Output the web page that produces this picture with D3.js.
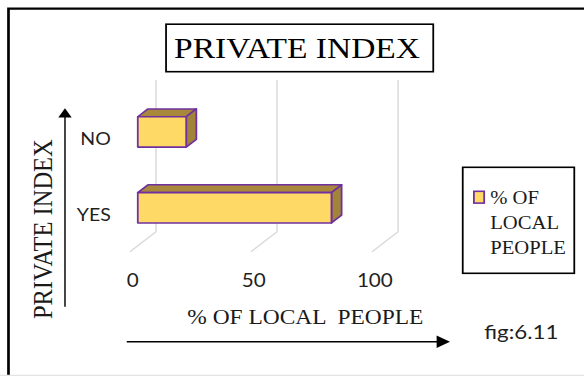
<!DOCTYPE html>
<html>
<head>
<meta charset="utf-8">
<script src="https://cdn.jsdelivr.net/npm/d3@7"></script>
<style>
  html, body { margin: 0; padding: 0; background: #fff; }
  svg { display: block; }
  text { white-space: pre; }
</style>
</head>
<body>
<div id="chart"></div>
<script>
// Share of local people by private index
const categories = ["NO", "YES"];
const values = [20, 80];
const xTicks = [0, 50, 100];
const seriesName = "% OF LOCAL PEOPLE";
const legendLines = ["% OF", "LOCAL", "PEOPLE"];
const chartTitle = "PRIVATE INDEX";
const yTitle = "PRIVATE INDEX";
const xTitle = "% OF LOCAL  PEOPLE";
const figLabel = "fig:6.11";

// The figure is laid out on a 523-wide canvas and shown stretched to 584 px.
const W = 584, H = 376, VW = 523;
const serif = "'Liberation Serif', 'Times New Roman', serif";
const sans = "Lato, 'Open Sans', sans-serif";

const svg = d3.select("#chart").append("svg")
  .attr("width", W).attr("height", H)
  .attr("viewBox", `0 0 ${VW} ${H}`)
  .attr("preserveAspectRatio", "none");

// frame
svg.append("path")
  .attr("d", `M7.6,${H + 2} V8.6 H${VW + 4}`)
  .attr("fill", "none").attr("stroke", "#000").attr("stroke-width", 2.4);
svg.append("line")
  .attr("x1", 0).attr("x2", VW).attr("y1", 375.3).attr("y2", 375.3)
  .attr("stroke", "#e3e3e3").attr("stroke-width", 1.2);

// title box
svg.append("rect")
  .attr("x", 148.7).attr("y", 24.2).attr("width", 239.3).attr("height", 47.5)
  .attr("fill", "#fff").attr("stroke", "#000").attr("stroke-width", 1.6);
svg.append("text")
  .attr("x", 266).attr("y", 58.3).attr("text-anchor", "middle")
  .attr("font-family", serif).attr("font-size", 30).attr("fill", "#000")
  .text(chartTitle);

// 3D plot geometry: front floor edge + depth vector towards the back wall
const floorY = 251.7;
const depth = [23.3, -20];
const x = d3.scaleLinear().domain([0, 100]).range([116.4, 333.2]);
const y = d3.scaleBand().domain(categories).range([100, floorY])
  .paddingInner(0.6).paddingOuter(0.3);
const bw = y.bandwidth();
const t0 = 0.3, t1 = 0.69;   // bar front / back depth fractions

const plot = svg.append("g");

// back-wall gridlines and floor lines
const grid = plot.append("g").attr("stroke", "#d9d9d9").attr("stroke-width", 1.3).attr("fill", "none");
xTicks.forEach(v => {
  const bx = x(v) + depth[0], by = floorY + depth[1];
  grid.append("path")
    .attr("d", `M${bx},${y.range()[0] + depth[1]} V${by} L${x(v)},${floorY}`);
});

// bars
const frontFill = "#FFD966", topFill = "#A8893C", sideFill = "#A0843A", edge = "#7030A0";
const bars = plot.append("g").selectAll("g").data(categories.map((c, i) => ({ c, v: values[i] })))
  .join("g")
  .attr("stroke", edge).attr("stroke-width", 1.6).attr("stroke-linejoin", "round");

bars.each(function (d) {
  const g = d3.select(this);
  const ox = t0 * depth[0], oy = t0 * depth[1];
  const dx = (t1 - t0) * depth[0], dy = (t1 - t0) * depth[1];
  const x0 = x(0) + ox, x1 = x(d.v) + ox;
  const yT = y(d.c) + oy, yB = y(d.c) + bw + oy;
  g.append("polygon").attr("fill", topFill)
    .attr("points", [[x0, yT], [x1, yT], [x1 + dx, yT + dy], [x0 + dx, yT + dy]].join(" "));
  g.append("polygon").attr("fill", sideFill)
    .attr("points", [[x1, yT], [x1 + dx, yT + dy], [x1 + dx, yB + dy], [x1, yB]].join(" "));
  g.append("rect").attr("fill", frontFill)
    .attr("x", x0).attr("y", yT).attr("width", x1 - x0).attr("height", yB - yT);
});

// value axis labels along the front floor edge
const xAxis = plot.append("g")
  .attr("transform", `translate(2,0)`)
  .call(d3.axisBottom(x).tickValues(xTicks).tickSize(0).tickFormat(d3.format("d")));
xAxis.select(".domain").remove();
xAxis.selectAll("text")
  .attr("y", 286.6).attr("dy", 0)
  .attr("font-family", sans).attr("font-size", 18.5).attr("fill", "#1f1f1f");

// category axis labels (ticks already sit at band centres)
const yAxis = plot.append("g")
  .attr("transform", `translate(99.3,0)`)
  .call(d3.axisLeft(y).tickSize(0).tickPadding(0));
yAxis.select(".domain").remove();
yAxis.selectAll("text")
  .attr("x", 0).attr("dy", 0)
  .attr("y", 6.8)
  .attr("font-family", sans).attr("font-size", 17.5).attr("fill", "#1f1f1f");

// axis titles
svg.append("text")
  .attr("transform", "translate(46.3,229.2) rotate(-90)")
  .attr("text-anchor", "middle")
  .attr("font-family", serif).attr("font-size", 24.5).attr("fill", "#1a1a1a")
  .text(yTitle);
svg.append("text")
  .attr("x", 167.7).attr("y", 324)
  .attr("font-family", serif).attr("font-size", 21).attr("fill", "#1a1a1a")
  .text(xTitle);

// direction arrows
svg.append("line").attr("x1", 58.2).attr("x2", 58.2).attr("y1", 306.7).attr("y2", 116)
  .attr("stroke", "#000").attr("stroke-width", 1.3);
svg.append("polygon").attr("fill", "#000")
  .attr("points", "58.2,108.3 52.2,117.6 64.2,117.6");
svg.append("line").attr("x1", 113.5).attr("x2", 392).attr("y1", 341.7).attr("y2", 341.7)
  .attr("stroke", "#000").attr("stroke-width", 1.5);
svg.append("polygon").attr("fill", "#000")
  .attr("points", "403,341.7 391,335.4 391,348");

// legend
const legend = svg.append("g");
legend.append("rect")
  .attr("x", 414.4).attr("y", 167.3).attr("width", 99.9).attr("height", 106)
  .attr("fill", "#fff").attr("stroke", "#000").attr("stroke-width", 1.6);
legend.append("rect")
  .attr("x", 424.4).attr("y", 191.3).attr("width", 9.2).attr("height", 11.8)
  .attr("fill", frontFill).attr("stroke", edge).attr("stroke-width", 1.6);
legend.append("text")
  .attr("font-family", serif).attr("font-size", 18.5).attr("fill", "#1a1a1a")
  .selectAll("tspan").data(legendLines).join("tspan")
  .attr("x", 439).attr("y", (d, i) => 204 + i * 25)
  .text(d => d);
legend.append("title").text(seriesName);

// figure number
svg.append("text")
  .attr("x", 433.7).attr("y", 339.3)
  .attr("font-family", sans).attr("font-size", 20).attr("fill", "#1f1f1f")
  .text(figLabel);
</script>
</body>
</html>
